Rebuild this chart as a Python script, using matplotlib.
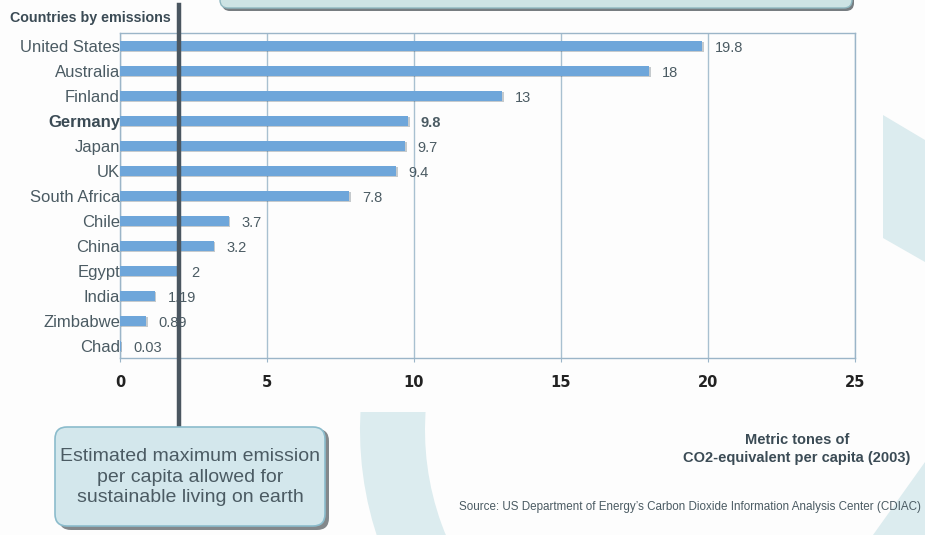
import matplotlib.pyplot as plt
from matplotlib.patches import FancyBboxPatch, Wedge, Polygon, Rectangle
import matplotlib.patheffects as pe

# данные
countries = ['United States', 'Australia', 'Finland', 'Germany', 'Japan', 'UK', 'South Africa',
             'Chile', 'China', 'Egypt', 'India', 'Zimbabwe', 'Chad']
emissions = [19.8, 18, 13, 9.8, 9.7, 9.4, 7.8, 3.7, 3.2, 2, 1.19, 0.89, 0.03]
xticks = [0, 5, 10, 15, 20, 25]
limit = 2  # максимально допустимый выброс на душу населения
highlight = 'Germany'

txt_col = '#4b5b63'
dark_col = '#3b4b55'
bar_col = '#6ea6da'
edge_col = '#9bb5c8'
teal = '#dcecef'
sans = ['Liberation Sans', 'DejaVu Sans']

fig = plt.figure(figsize=(9.25, 5.35), dpi=100)
fig.patch.set_facecolor('#fdfdfd')

# фон с декоративными фигурами (координаты в пикселях)
bg = fig.add_axes([0, 0, 1, 1], zorder=0)
bg.set_xlim(0, 925)
bg.set_ylim(0, 535)
bg.axis('off')
ring = Wedge((700, 105), 340, 150, 250, width=65, color=teal, lw=0)
bg.add_patch(ring)
clip = Rectangle((0, 0), 925, 123, transform=bg.transData)
ring.set_clip_path(clip)
bg.add_patch(Polygon([(883, 420), (925, 395), (925, 273), (883, 297)], closed=True, color=teal, lw=0))
bg.add_patch(Polygon([(873, 0), (925, 73), (925, 0)], closed=True, color=teal, lw=0))

# верхняя плашка
bg.add_patch(FancyBboxPatch((222, 524), 632, 40, boxstyle='round,pad=0,rounding_size=8',
                            fc='#555d62', ec='none', alpha=0.8, clip_on=False))
bg.add_patch(FancyBboxPatch((220, 527), 632, 40, boxstyle='round,pad=0,rounding_size=8',
                            fc='#cde3e4', ec='#8fb7c0', lw=1, clip_on=False))

# основной график
ax = fig.add_axes([120 / 925, 177 / 535, 735 / 925, 325 / 535], zorder=2)
ax.set_facecolor('#fdfdfd')
pos = list(range(len(countries)))
bars = ax.barh(pos, emissions, height=0.4, color=bar_col, zorder=3)
for b in bars:
    b.set_path_effects([pe.SimplePatchShadow(offset=(1, -1), alpha=0.25), pe.Normal()])

ax.set_xlim(0, 25)
ax.set_ylim(12.48, -0.52)
ax.set_xticks(xticks)
ax.set_xticklabels([str(t) for t in xticks], fontsize=10.5, fontweight='bold',
                   color='#222222', family='DejaVu Sans')
ax.tick_params(axis='x', length=3, color=edge_col, pad=9)
ax.set_yticks(pos)
ax.set_yticklabels(countries, fontsize=12, color=txt_col, family=sans)
ax.tick_params(axis='y', length=0, pad=0)
for lab in ax.get_yticklabels():
    if lab.get_text() == highlight:
        lab.set_fontweight('bold')
        lab.set_color(dark_col)

ax.grid(axis='x', color='#a8c0d0', lw=1, zorder=1)
for s in ax.spines.values():
    s.set_color(edge_col)
    s.set_linewidth(1)

for p, v, c in zip(pos, emissions, countries):
    ax.annotate(f'{v:g}', (v, p), xytext=(9, -1.5), textcoords='offset points',
                va='center', ha='left', fontsize=10.5, color=txt_col, family=sans,
                fontweight='bold' if c == highlight else 'normal')

# линия устойчивого уровня
ax.axvline(limit, ymin=-0.228, ymax=1.086, color='#4a5660', lw=3.2, clip_on=False, zorder=6)

fig.text(10 / 925, 1 - 18 / 535, 'Countries by emissions', fontsize=10.3, fontweight='bold',
         color=dark_col, family=sans, va='center', ha='left')

# выноска внизу
top = fig.add_axes([0, 0, 1, 1], zorder=3)
top.set_xlim(0, 925)
top.set_ylim(0, 535)
top.axis('off')
top.add_patch(FancyBboxPatch((59, 5), 270, 101, boxstyle='round,pad=0,rounding_size=12',
                             fc='#5a6165', ec='none', alpha=0.75))
top.add_patch(FancyBboxPatch((55, 9), 270, 99, boxstyle='round,pad=0,rounding_size=12',
                             fc='#d3e7ec', ec='#8bbccc', lw=1.2))
top.text(190, 58, 'Estimated maximum emission\nper capita allowed for\nsustainable living on earth',
         ha='center', va='center', fontsize=14, color=txt_col, family=sans, linespacing=1.3)

fig.text(797 / 925, 1 - 449 / 535, 'Metric tones of\nCO2-equivalent per capita (2003)',
         ha='center', va='center', fontsize=10.5, fontweight='bold', color=dark_col,
         family=sans, linespacing=1.35)
fig.text(921 / 925, 1 - 507 / 535,
         'Source: US Department of Energy\u2019s Carbon Dioxide Information Analysis Center (CDIAC)',
         ha='right', va='center', fontsize=8.4, color=txt_col, family=sans)

fig.savefig('out.png', dpi=100, facecolor=fig.get_facecolor())
